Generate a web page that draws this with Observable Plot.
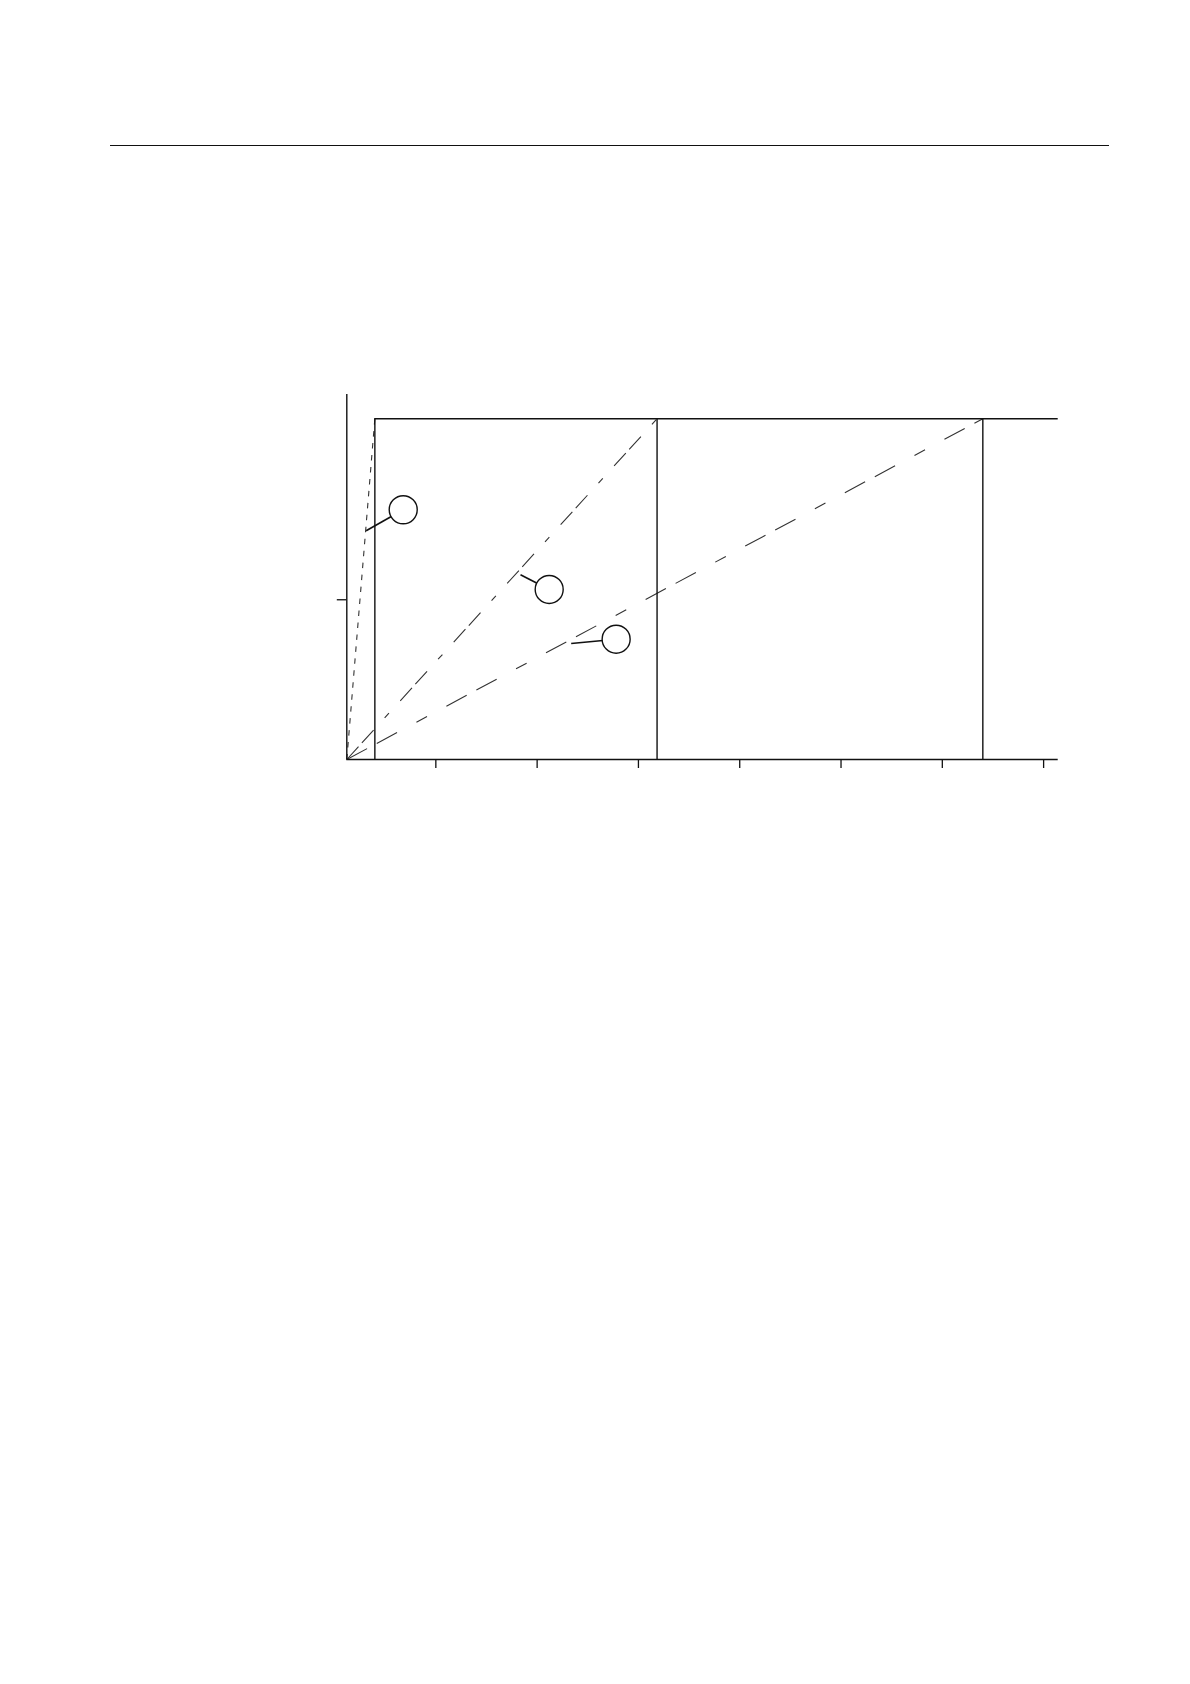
<!DOCTYPE html>
<html>
<head>
<meta charset="utf-8">
<script src="https://cdn.jsdelivr.net/npm/d3@7"></script>
<script src="https://cdn.jsdelivr.net/npm/@observablehq/plot@0.6"></script>
<style>
  html, body { margin: 0; padding: 0; background: #fff; }
  body { width: 1190px; height: 1684px; position: relative; font-family: "Liberation Sans", Arial, sans-serif; }
  #rule { position: absolute; left: 110px; top: 144.6px; width: 999px; height: 1.4px; background: #111; }
  #chart { position: absolute; left: 0; top: 0; }
</style>
</head>
<body>
<div id="rule"></div>
<div id="chart"></div>
<script>
// ---- data ----
const xTicks = [1, 2, 3, 4, 5, 6, 7];
const yTicks = [1];
const xOrigin = 0.121;          // where the y axis meets the x axis
const xEnd = 7.144;             // right end of the x axis / top line
const yTop = 2.285;             // top of the y axis
const plateau = 2.133;          // level of the top horizontal line
const stepX = [0.398, 3.184, 6.40];   // vertical lines / ends of the three ramps
const seriesNames = ["1", "2", "3"];
const labelX = [0.678, 2.119, 2.780];     // callout circle centres
const labelY = [1.5635, 1.0645, 0.753];
const leaderX = [0.312, 1.836, 2.336];    // callout leader start points
const leaderY = [1.432, 1.1565, 0.726];

// ---- derived tables ----
const ramps = seriesNames.map((s, i) => [
  {s, x: xOrigin, y: 0},
  {s, x: stepX[i], y: plateau}
]);
const labels = seriesNames.map((s, i) => ({
  s, x: labelX[i], y: labelY[i], x0: leaderX[i], y0: leaderY[i]
}));
const dashes = ["5.5,6.5", "17.4,5,17.4,16.4,6.4,16.8", "23,11,23,22,12,22"];

const W = 1190;
const marginLeft = 346.3, marginRight = W - 1057.7;
const marginTop = 394, bottomY = 759, H = 800;

const plot = Plot.plot({
  width: W,
  height: H,
  marginLeft,
  marginRight,
  marginTop,
  marginBottom: H - bottomY,
  x: {domain: [xOrigin, xEnd]},
  y: {domain: [0, yTop]},
  marks: [
    // ramps
    ...ramps.map((r, i) => Plot.line(r, {
      x: "x", y: "y", stroke: "#333", strokeWidth: 1.1,
      strokeDasharray: dashes[i], strokeLinecap: "butt"
    })),
    // frame: top line and verticals
    Plot.ruleY([plateau], {x1: stepX[0], x2: xEnd, stroke: "#111", strokeWidth: 1.4}),
    Plot.ruleX(stepX, {y1: 0, y2: plateau, stroke: "#111", strokeWidth: 1.4}),
    // axes lines
    Plot.ruleY([0], {x1: xOrigin, x2: xEnd, stroke: "#111", strokeWidth: 1.4}),
    Plot.ruleX([xOrigin], {y1: 0, y2: yTop, stroke: "#111", strokeWidth: 1.4}),
    Plot.axisX({ticks: xTicks, tickSize: 9, tickFormat: () => "", stroke: "#111", strokeWidth: 1.3}),
    Plot.axisY({ticks: yTicks, tickSize: 9.5, tickFormat: () => "", stroke: "#111", strokeWidth: 1.3}),
    // callouts
    Plot.link(labels, {x1: "x0", y1: "y0", x2: "x", y2: "y", stroke: "#111", strokeWidth: 1.6}),
    Plot.dot(labels, {x: "x", y: "y", r: 14, fill: "white", stroke: "#111", strokeWidth: 1.4})
  ]
});
document.getElementById("chart").appendChild(plot);
</script>
</body>
</html>
